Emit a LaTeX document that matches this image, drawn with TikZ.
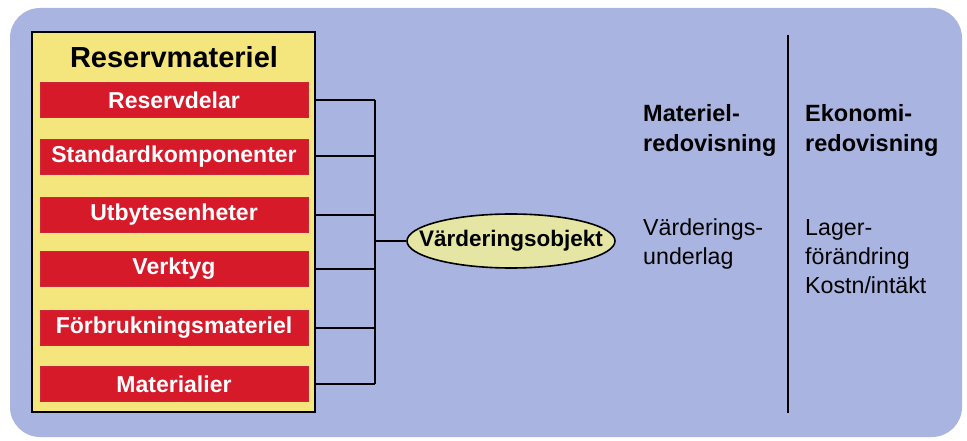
\documentclass[tikz,border=0pt]{standalone}
\usepackage{fontspec}
\setmainfont{Liberation Sans}
\usetikzlibrary{shapes.geometric}
\definecolor{panel}{HTML}{A9B5E0}
\definecolor{boxyellow}{HTML}{F4E57C}
\definecolor{barred}{HTML}{D71A2A}
\definecolor{barborder}{HTML}{C8283A}
\definecolor{ellfill}{HTML}{E6E6A4}
\tikzset{
  barbox/.style={rectangle, fill=barred, draw=barborder, line width=0.8pt, minimum width=268pt, minimum height=35pt, inner sep=0pt, text=white, font=\bfseries\fontsize{23}{27}\selectfont},
  conn/.style={line width=2pt, black},
  headtext/.style={anchor=base west, align=left, inner sep=0pt, font=\bfseries\fontsize{23.5}{30}\selectfont},
  bodytext/.style={anchor=base west, align=left, inner sep=0pt, font=\fontsize{23.2}{29}\selectfont},
}
\begin{document}
\begin{tikzpicture}[x=1pt,y=-1pt]
\useasboundingbox (0,0) rectangle (967,441);
\fill[white] (0,0) rectangle (967,441);
\fill[panel, rounded corners=30pt] (10,8) rectangle (962,437);
% yellow container
\node[rectangle, fill=boxyellow, draw=black, line width=1.6pt, minimum width=283pt, minimum height=380pt, inner sep=0pt] (box) at (173.5,222) {};
\node[font=\bfseries\fontsize{29}{33}\selectfont, inner sep=0pt] (title) at (174,57) {Reservmateriel};
\node[barbox] (b1) at (174,100) {Reservdelar};
\node[barbox] (b2) at (174,156.5) {Standardkomponenter};
\node[barbox] (b3) at (174,214.5) {Utbytesenheter};
\node[barbox] (b4) at (174,268.5) {Verktyg};
\node[barbox] (b5) at (174,327.5) {Förbrukningsmateriel};
\node[barbox] (b6) at (174,384) {Materialier};
% ellipse
\node[ellipse, fill=ellfill, draw=black, line width=1.6pt, minimum width=208pt, minimum height=54pt, inner xsep=-40pt, inner ysep=0pt, font=\bfseries\fontsize{22.5}{26}\selectfont] (ell) at (511,241) {Värderingsobjekt};
% connectors
\coordinate (j) at (375,241);
\foreach \b in {b1,b2,b3,b4,b5,b6} {
  \draw[conn] (\b.east -| box.east) -- (\b.east -| j);
}
\draw[conn] (b1.east -| j) -- (b6.east -| j);
\draw[conn] (j) -- (ell.west);
% divider
\coordinate (vt) at (788,35);
\coordinate (vb) at (788,413);
\draw[line width=1.8pt] (vt) -- (vb);
% texts (anchored at the baseline of the last line)
\node[headtext] (h1) at (643,152) {Materiel-\\redovisning};
\node[headtext] (h2) at (805,152) {Ekonomi-\\redovisning};
\node[bodytext] (t1) at (643,264) {Värderings-\\underlag};
\node[bodytext] (t2) at (805,293) {Lager-\\förändring\\Kostn/intäkt};
\end{tikzpicture}
\end{document}
